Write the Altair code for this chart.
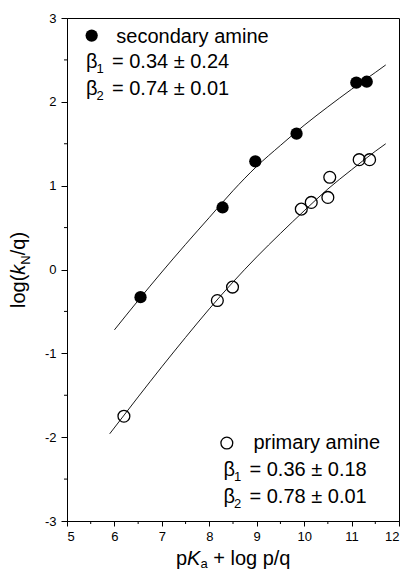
import altair as alt
import pandas as pd

# ---- data ----
sec_x = [6.55, 8.28, 8.97, 9.84, 11.10, 11.32]
sec_y = [-0.33, 0.74, 1.29, 1.62, 2.23, 2.24]
pri_x = [6.20, 8.17, 8.49, 9.94, 10.15, 10.50, 10.54, 11.16, 11.38]
pri_y = [-1.75, -0.37, -0.21, 0.72, 0.80, 0.86, 1.10, 1.31, 1.31]

sec_fit_x = [6.0, 6.5, 7.0, 7.5, 8.0, 8.5, 9.0, 9.5, 10.0, 10.5, 11.0, 11.5, 11.72]
sec_fit_y = [-0.72, -0.37, -0.03, 0.30, 0.62, 0.94, 1.23, 1.48, 1.72, 1.94, 2.15, 2.35, 2.44]
pri_fit_x = [5.9, 6.5, 7.0, 7.5, 8.0, 8.5, 9.0, 9.5, 10.0, 10.5, 11.0, 11.5, 11.72]
pri_fit_y = [-1.96, -1.52, -1.16, -0.81, -0.47, -0.15, 0.15, 0.43, 0.70, 0.96, 1.19, 1.41, 1.50]

x_ticks = [5, 6, 7, 8, 9, 10, 11, 12]
y_ticks = [-3, -2, -1, 0, 1, 2, 3]
x_minor = [5.5, 6.5, 7.5, 8.5, 9.5, 10.5, 11.5]
y_minor = [-2.5, -1.5, -0.5, 0.5, 1.5, 2.5]

sec_label = "secondary amine"
pri_label = "primary amine"
sec_b1 = "= 0.34 ± 0.24"
sec_b2 = "= 0.74 ± 0.01"
pri_b1 = "= 0.36 ± 0.18"
pri_b2 = "= 0.78 ± 0.01"

W, H = 332, 503
FONT = "Liberation Sans"
FS = 20
SUB = 13

xs = alt.Scale(domain=[5, 12], nice=False, zero=False)
ys = alt.Scale(domain=[-3, 3], nice=False, zero=False)

X = alt.X("x:Q", scale=xs, axis=alt.Axis(values=x_ticks, title=None, labelExpr="'' + datum.value",
                                          tickSize=5, labelPadding=4))
Y = alt.Y("y:Q", scale=ys, axis=alt.Axis(values=y_ticks, title=None, labelExpr="'' + datum.value",
                                          tickSize=6, labelPadding=5))

fits = pd.concat([
    pd.DataFrame({"x": sec_fit_x, "y": sec_fit_y, "s": "secondary"}),
    pd.DataFrame({"x": pri_fit_x, "y": pri_fit_y, "s": "primary"}),
])
lines = alt.Chart(fits).mark_line(color="black", strokeWidth=0.9, interpolate="monotone").encode(
    x=X, y=Y, detail="s:N", order="x:Q")

sec_df = pd.DataFrame({"x": sec_x, "y": sec_y})
pri_df = pd.DataFrame({"x": pri_x, "y": pri_y})
filled = alt.Chart(sec_df).mark_point(shape="circle", filled=True, color="black", size=150, opacity=1).encode(x=X, y=Y)
opened = alt.Chart(pri_df).mark_point(shape="circle", filled=False, color="black", size=140,
                                      strokeWidth=1.3, opacity=1).encode(x=X, y=Y)

# legend symbols
leg_f = alt.Chart(pd.DataFrame({"x": [5.52], "y": [2.79]})).mark_point(
    shape="circle", filled=True, color="black", size=150, opacity=1).encode(x=X, y=Y)
leg_o = alt.Chart(pd.DataFrame({"x": [8.37], "y": [-2.07]})).mark_point(
    shape="circle", filled=False, color="black", size=140, strokeWidth=1.3, opacity=1).encode(x=X, y=Y)

# minor ticks
xmin = alt.Chart(pd.DataFrame({"x": x_minor, "y": [-3] * len(x_minor)})).mark_point(
    shape="M0,0V1", size=36, color="black", strokeWidth=1, opacity=1).encode(x=X, y=Y)
ymin = alt.Chart(pd.DataFrame({"x": [5] * len(y_minor), "y": y_minor})).mark_point(
    shape="M0,0H-1", size=36, color="black", strokeWidth=1, opacity=1).encode(x=X, y=Y)


def txt(x, y, t, dx=0, dy=0, size=FS, style="normal"):
    return alt.Chart(pd.DataFrame({"x": [x], "y": [y], "t": [t]})).mark_text(
        align="left", baseline="alphabetic", dx=dx, dy=dy, font=FONT, fontSize=size,
        fontStyle=style, color="black").encode(x=X, y=Y, text="t:N")


BW = 11.5   # width of beta
EQ = 26     # offset of "=" after beta

ann = [
    txt(6.04, 2.70, sec_label),
    txt(5.40, 2.40, "β"), txt(5.40, 2.40, "1", dx=BW - 1, dy=5, size=SUB), txt(5.40, 2.40, sec_b1, dx=EQ),
    txt(5.40, 2.08, "β"), txt(5.40, 2.08, "2", dx=BW - 1, dy=5, size=SUB), txt(5.40, 2.08, sec_b2, dx=EQ),
    txt(8.93, -2.14, pri_label),
    txt(8.30, -2.46, "β"), txt(8.30, -2.46, "1", dx=BW - 1, dy=5, size=SUB), txt(8.30, -2.46, pri_b1, dx=EQ),
    txt(8.30, -2.79, "β"), txt(8.30, -2.79, "2", dx=BW - 1, dy=5, size=SUB), txt(8.30, -2.79, pri_b2, dx=EQ),
]


def ttl(t, px, py, dx=0, dy=0, size=FS, style="normal", angle=0):
    return alt.Chart(pd.DataFrame({"t": [t]})).mark_text(
        align="left", baseline="alphabetic", dx=dx, dy=dy, font=FONT, fontSize=size,
        fontStyle=style, color="black", angle=angle).encode(
        x=alt.value(px), y=alt.value(py), text="t:N")


# x title: pKa + log p/q
XT = (109, 547)
xt = [
    ttl("p", *XT),
    ttl("K", *XT, dx=11.1, style="italic"),
    ttl("a", *XT, dx=24.4, dy=3, size=SUB),
    ttl("+ log p/q", *XT, dx=37.2),
]
# y title: log(kN/q)
YT = (-42, 290)
yt = [
    ttl("log(", *YT, angle=270),
    ttl("k", *YT, dx=33.3, style="italic", angle=270),
    ttl("N", *YT, dx=43.3, dy=5, size=SUB, angle=270),
    ttl("/q)", *YT, dx=52.7, angle=270),
]

chart = alt.layer(lines, filled, opened, leg_f, leg_o, xmin, ymin, *ann, *xt, *yt).properties(
    width=W, height=H,
    autosize=alt.AutoSizeParams(type="none"),
    padding={"left": 59, "top": 10, "right": 1, "bottom": 51},
).configure_view(stroke="black", strokeWidth=1).configure_axis(
    grid=False, domainColor="black", tickColor="black", labelColor="black",
    labelFont=FONT, labelFontSize=13, domainWidth=1, tickWidth=1,
)

chart.save("out.html", embed_options={"renderer": "svg", "actions": False})
